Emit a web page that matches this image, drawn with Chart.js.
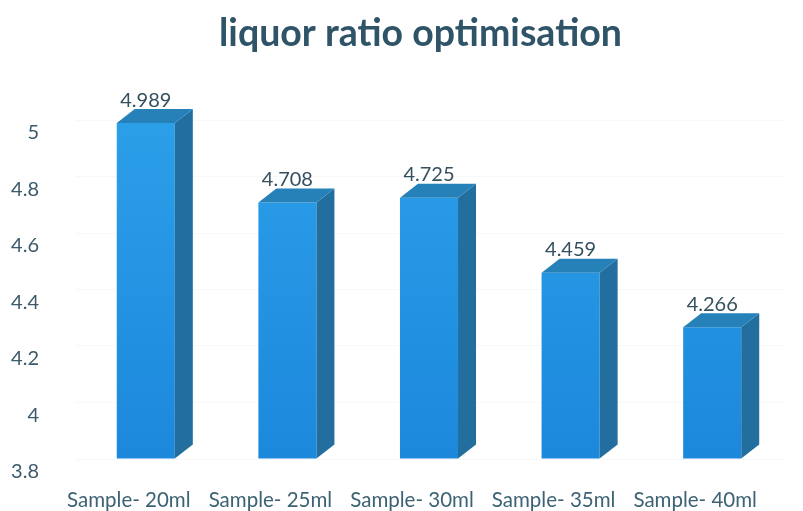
<!DOCTYPE html>
<html>
<head>
<meta charset="utf-8">
<title>liquor ratio optimisation</title>
<script src="https://cdn.jsdelivr.net/npm/chart.js@4"></script>
<style>
    html, body { margin: 0; padding: 0; background: #fff; }
    canvas { display: block; }
</style>
</head>
<body>
<canvas id="barChart" width="803" height="511"></canvas>
<script>
// Chart data
const chartTitle = 'liquor ratio optimisation';
const categories = ['Sample- 20ml', 'Sample- 25ml', 'Sample- 30ml', 'Sample- 35ml', 'Sample- 40ml'];
const seriesValues = [4.989, 4.708, 4.725, 4.459, 4.266];
const valueLabels = ['4.989', '4.708', '4.725', '4.459', '4.266'];
const yTickLabels = ['3.8', '4', '4.2', '4.4', '4.6', '4.8', '5'];
const yMin = 3.8;
const yMax = 5;

// Depth of the fake 3D block
const depthX = 18;
const depthY = 14;

// Title sits right of the canvas centre in the original
const titleShift = 29;

// Draws the side and top faces of each bar, plus the value label
const blockFaces = {
    id: 'blockFaces',
    afterLayout(chart) {
        chart.titleBlock.left += titleShift;
        chart.titleBlock.right += titleShift;
    },
    afterDatasetsDraw(chart) {
        const ctx = chart.ctx;
        chart.getDatasetMeta(0).data.forEach((bar, i) => {
            const left = bar.x - bar.width / 2;
            const right = bar.x + bar.width / 2;

            // side face
            ctx.fillStyle = '#226f9f';
            ctx.beginPath();
            ctx.moveTo(right, bar.y);
            ctx.lineTo(right + depthX, bar.y - depthY);
            ctx.lineTo(right + depthX, bar.base - depthY);
            ctx.lineTo(right, bar.base);
            ctx.closePath();
            ctx.fill();

            // top face
            ctx.fillStyle = '#2581b8';
            ctx.beginPath();
            ctx.moveTo(left, bar.y);
            ctx.lineTo(left + depthX, bar.y - depthY);
            ctx.lineTo(right + depthX, bar.y - depthY);
            ctx.lineTo(right, bar.y);
            ctx.closePath();
            ctx.fill();

            // value label
            ctx.fillStyle = '#34505f';
            ctx.font = '20px Lato';
            ctx.textAlign = 'center';
            ctx.textBaseline = 'middle';
            ctx.fillText(valueLabels[i], bar.x, bar.y - 23);
        });
    }
};

// Vertical gradient for the front of the bars
function frontGradient(context) {
    const area = context.chart.chartArea;
    if (!area) return '#2494e2';
    const gradient = context.chart.ctx.createLinearGradient(0, area.top, 0, area.bottom);
    gradient.addColorStop(0, '#2c9fe9');
    gradient.addColorStop(1, '#1c88dc');
    return gradient;
}

new Chart(document.getElementById('barChart').getContext('2d'), {
    type: 'bar',
    data: {
        labels: categories,
        datasets: [{
            data: seriesValues,
            base: yMin,
            backgroundColor: frontGradient,
            borderWidth: 0,
            barPercentage: 1,
            categoryPercentage: 0.41
        }]
    },
    options: {
        responsive: false,
        animation: false,
        layout: { padding: { left: 0, right: 20, top: 0, bottom: 0 } },
        plugins: {
            legend: { display: false },
            tooltip: { enabled: false },
            title: {
                display: true,
                text: chartTitle,
                color: '#2f5468',
                font: { family: 'Lato', size: 37.5, weight: 'bold' },
                padding: { top: 11, bottom: 64 }
            }
        },
        scales: {
            x: {
                grid: { display: false },
                border: { display: false },
                afterFit(axis) { axis.height = 52; },
                ticks: {
                    color: '#3c6273',
                    font: { family: 'Lato', size: 20.5 },
                    padding: 21,
                    labelOffset: -17,
                    maxRotation: 0,
                    autoSkip: false
                }
            },
            y: {
                min: yMin,
                max: yMax,
                grid: { color: '#f8f8f8', drawTicks: false },
                border: { display: false },
                afterFit(axis) { axis.width = 75; },
                ticks: {
                    stepSize: 0.2,
                    color: '#3c5a6a',
                    font: { family: 'Lato', size: 20 },
                    padding: 36,
                    labelOffset: 13,
                    callback: (value, index) => yTickLabels[index]
                }
            }
        }
    },
    plugins: [blockFaces]
});
</script>
</body>
</html>
